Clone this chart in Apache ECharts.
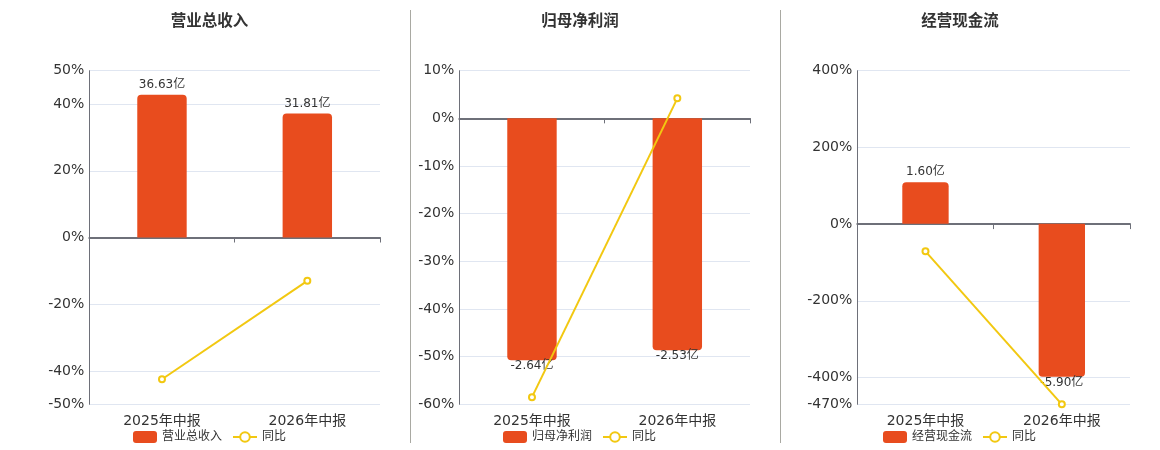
<!DOCTYPE html>
<html>
<head>
<meta charset="utf-8">
<script src="https://cdn.jsdelivr.net/npm/echarts@6/dist/echarts.min.js"></script>
<style>
  html, body { margin: 0; padding: 0; background: #fff; }
  #main { width: 1160px; height: 450px; }
</style>
</head>
<body>
<div id="main"></div>
<script>
// 数据
var categories = ['2025年中报', '2026年中报'];
var titles = ['营业总收入', '归母净利润', '经营现金流'];

var revenue = [36.63, 31.81];        // 亿
var revenueYoy = [-42.5, -13.0];     // %
var profit = [-2.64, -2.53];
var profitYoy = [-58.5, 4.2];
var cashflow = [1.60, -5.90];
var cashflowYoy = [-71, -470];

var revenueTicks = [-50, -40, -20, 0, 20, 40, 50];
var profitTicks = [-60, -50, -40, -30, -20, -10, 0, 10];
var cashflowTicks = [-470, -400, -200, 0, 200, 400];

var barData = [revenue, profit, cashflow];
var yoyData = [revenueYoy, profitYoy, cashflowYoy];
var tickData = [revenueTicks, profitTicks, cashflowTicks];

// 布局 (px)
var panels = [
    {left: 89.3, width: 290.7, center: 209.5, legendLeft: 133, barMin: -42.8, barMax: 42.8},
    {left: 459.3, width: 290.7, center: 580, legendLeft: 503, barMin: -3.12, barMax: 0.52},
    {left: 857.3, width: 272.7, center: 960, legendLeft: 883, barMin: -6.96, barMax: 5.90}
];
var gridTop = 70.7, gridHeight = 333.6;
var PAD = 5; // 组件默认 padding

var FONT = "'DejaVu Sans', 'Noto Sans CJK SC', sans-serif";
var BAR_COLOR = '#E84C1E';
var LINE_COLOR = '#F2C811';
var AXIS_COLOR = '#6E7079';

var myChart = echarts.init(document.getElementById('main'), null, {renderer: 'canvas'});

var title = [], grid = [], xAxis = [], yAxis = [], series = [], legend = [];
for (var i = 0; i < 3; i++) {
    var p = panels[i];
    var ticks = tickData[i];
    title.push({
        text: titles[i],
        left: p.center - PAD,
        top: 9,
        textAlign: 'center',
        textStyle: {fontSize: 15.5, fontWeight: 'bold', color: '#333', fontFamily: FONT}
    });
    grid.push({left: p.left, top: gridTop, width: p.width, height: gridHeight, containLabel: false});
    // 零线上的轴
    xAxis.push({
        type: 'category', gridIndex: i, data: categories, position: 'top',
        axisLine: {onZero: true, lineStyle: {color: AXIS_COLOR, width: 2}},
        axisTick: {show: true, inside: true, length: 5, lineStyle: {color: AXIS_COLOR}},
        axisLabel: {show: false}
    });
    // 底部标签
    xAxis.push({
        type: 'category', gridIndex: i, data: categories, position: 'bottom',
        axisLine: {show: false, onZero: false},
        axisTick: {show: false},
        axisLabel: {fontSize: 14, color: '#333', margin: 10, fontFamily: FONT}
    });
    yAxis.push({
        type: 'value', gridIndex: i,
        min: ticks[0], max: ticks[ticks.length - 1],
        axisLine: {show: true, lineStyle: {color: AXIS_COLOR, width: 1}},
        axisTick: {show: false, customValues: ticks},
        axisLabel: {customValues: ticks, formatter: '{value}%', fontSize: 14, color: '#333', margin: 5, fontFamily: FONT},
        splitLine: {show: true, lineStyle: {color: '#E0E6F1'}}
    });
    yAxis.push({
        type: 'value', gridIndex: i, show: false,
        min: p.barMin, max: p.barMax,
        splitLine: {show: false}
    });

    var items = barData[i].map(function (v) {
        return {
            value: v,
            itemStyle: {borderRadius: v < 0 ? [0, 0, 4, 4] : [4, 4, 0, 0]},
            label: {distance: v < 0 ? 0 : 4}
        };
    });
    series.push({
        name: titles[i], type: 'bar',
        xAxisIndex: 2 * i, yAxisIndex: 2 * i + 1,
        data: items, barWidth: '34%',
        itemStyle: {color: BAR_COLOR},
        label: {
            show: true, position: 'outside', fontSize: 12, color: '#333', fontFamily: FONT,
            formatter: function (d) { return d.value.toFixed(2) + '亿'; }
        }
    });
    series.push({
        name: '同比', type: 'line',
        xAxisIndex: 2 * i, yAxisIndex: 2 * i,
        data: yoyData[i], z: 5,
        symbol: 'emptyCircle', symbolSize: 6,
        lineStyle: {color: LINE_COLOR, width: 2},
        itemStyle: {color: LINE_COLOR}
    });
    legend.push({
        data: [titles[i], '同比'],
        left: p.legendLeft - PAD, top: 426,
        itemWidth: 24, itemHeight: 12, itemGap: 10,
        textStyle: {fontSize: 12, color: '#333', fontFamily: FONT}
    });
}

var option = {
    animation: false,
    backgroundColor: '#fff',
    textStyle: {fontFamily: FONT},
    title: title,
    grid: grid,
    xAxis: xAxis,
    yAxis: yAxis,
    legend: legend,
    series: series,
    graphic: [
        {type: 'line', shape: {x1: 410.5, y1: 10, x2: 410.5, y2: 443}, style: {stroke: '#A9A9A2', lineWidth: 1}},
        {type: 'line', shape: {x1: 780.5, y1: 10, x2: 780.5, y2: 443}, style: {stroke: '#A9A9A2', lineWidth: 1}}
    ]
};
myChart.setOption(option);
</script>
</body>
</html>
